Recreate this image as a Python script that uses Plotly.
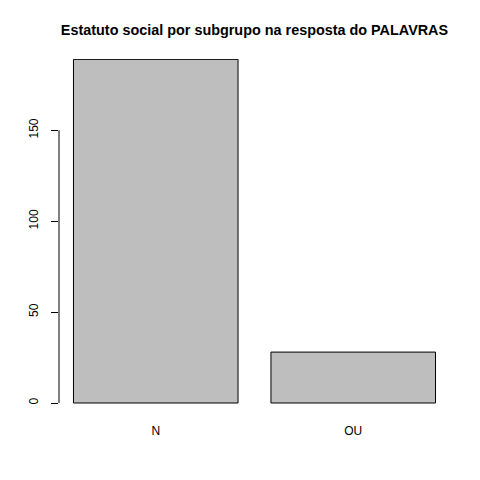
import plotly.graph_objects as go

# data
categories = ["N", "OU"]
counts = [189, 28]
bar_pos = [0.7, 1.9]          # R barplot centres (width 1, space 0.2)
y_ticks = [0, 50, 100, 150]

# page is drawn with an 8px body margin, so shift everything up/left
OFF = 8

fig = go.Figure()

fig.add_trace(
    go.Bar(
        x=bar_pos,
        y=counts,
        width=1.0,
        marker=dict(color="#BEBEBE", line=dict(color="black", width=1)),
        hoverinfo="skip",
    )
)

# y axis line only from 0 to 150, R style
fig.add_shape(
    type="line", xref="paper", yref="y",
    x0=0, x1=0, y0=y_ticks[0], y1=y_ticks[-1],
    line=dict(color="black", width=1),
)

fig.update_layout(
    width=480,
    height=480,
    paper_bgcolor="white",
    plot_bgcolor="white",
    showlegend=False,
    font=dict(family="Liberation Sans, Arial, sans-serif", color="black", size=12),
    margin=dict(l=59 - OFF, r=30 + OFF, t=59 - OFF, b=74 + OFF),
    title=dict(
        text="<b>Estatuto social por subgrupo na resposta do PALAVRAS</b>",
        x=((59 + 450) / 2 - OFF) / 480,
        xanchor="center",
        y=1 - (30 - OFF) / 480,
        yanchor="middle",
        font=dict(size=14.4, color="black"),
    ),
    xaxis=dict(
        range=[0.112, 2.488],
        tickvals=bar_pos,
        ticktext=categories,
        showgrid=False,
        zeroline=False,
        showline=False,
        ticks="outside",
        ticklen=14,
        tickcolor="rgba(0,0,0,0)",
        tickfont=dict(size=12),
    ),
    yaxis=dict(
        range=[-1.65, 189.2],
        tickvals=y_ticks,
        showgrid=False,
        zeroline=False,
        showline=False,
        ticks="outside",
        ticklen=7,
        tickcolor="black",
        tickwidth=1,
        tickangle=-90,
        ticklabelstandoff=8,
        tickfont=dict(size=12),
    ),
)

fig.write_html("out.html")
